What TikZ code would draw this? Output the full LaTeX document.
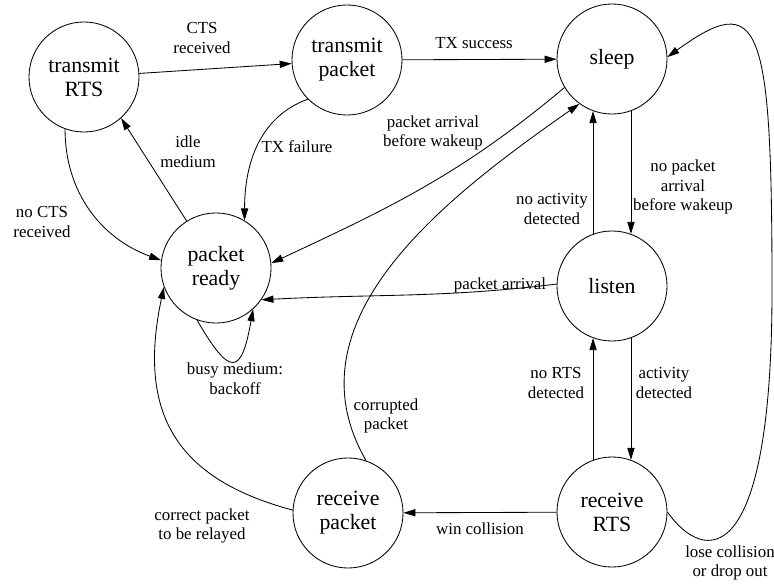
\documentclass[tikz,border=0pt]{standalone}
\usepackage{fontspec}
\setmainfont{Liberation Serif}
\usetikzlibrary{arrows.meta}

\begin{document}
\begin{tikzpicture}[x=0.025cm, y=0.025cm,
    state/.style={draw, circle, line width=0.6pt, minimum size=2.75cm, inner sep=0pt,
        align=center, font=\fontsize{15.5}{17}\selectfont},
    lbl/.style={align=center, inner sep=1pt, font=\fontsize{12}{14}\selectfont},
    arr/.style={line width=0.6pt, -{Triangle[length=3mm,width=1.8mm]}}]
            \useasboundingbox (0,0) rectangle (774,-584);
            % states
            \node[state] (tRTS) at (84,-77) {transmit\\RTS};
            \node[state] (tPkt) at (347,-60) {transmit\\packet};
            \node[state] (sleep) at (612,-59) {sleep};
            \node[state] (ready) at (216,-268) {packet\\ready};
            \node[state] (listen) at (612,-286) {listen};
            \node[state] (rRTS) at (612,-512) {receive\\RTS};
            \node[state] (rPkt) at (348,-513) {receive\\packet};
            % labels
            \node[lbl] (lCTS) at (202,-38) {CTS\\received};
            \node[lbl] (lTXok) at (474,-43) {TX success};
            \node[lbl] (lTXfail) at (297,-147) {TX failure};
            \node[lbl] (lIdle) at (188,-152) {idle\\medium};
            \node[lbl] (lNoCTS) at (42,-222) {no CTS\\received};
            \node[lbl] (lEarly) at (433,-133) {packet arrival\\before wakeup};
            \node[lbl] (lWake) at (683,-187) {no packet\\arrival\\before wakeup};
            \node[lbl] (lNoAct) at (552,-209) {no activity\\detected};
            \node[lbl] (lArr) at (500,-285) {packet arrival};
            \node[lbl] (lBusy) at (235,-379) {busy medium:\\backoff};
            \node[lbl] (lCorr) at (386,-416) {corrupted\\packet};
            \node[lbl] (lNoRTS) at (556,-383) {no RTS\\detected};
            \node[lbl] (lAct) at (664,-383) {activity\\detected};
            \node[lbl] (lWin) at (480,-529) {win collision};
            \node[lbl] (lRelay) at (202,-526) {correct packet\\to be relayed};
            \node[lbl] (lLose) at (730,-563) {lose collision\\or drop out};
            % transitions
            \draw[arr] (tRTS) -- (tPkt);
            \draw[arr] (tPkt) -- (sleep);
            \draw[arr] (tPkt.225) to[out=200, in=90] (ready.59);
            \draw[arr] (ready.122) -- (tRTS.-48);
            \draw[arr] (tRTS.250) to[out=270, in=160] (ready.172);
            \draw[arr] (sleep.211) to[out=220, in=25] (ready.5);
            \draw[arr] (rPkt.71) to[out=120, in=215] (sleep.234);
            \draw[arr] (sleep.-70) -- (listen.70);
            \draw[arr] (listen.110) -- (sleep.-110);
            \draw[arr] (listen.-70) -- (rRTS.70);
            \draw[arr] (rRTS.110) -- (listen.-110);
            \draw[arr] (listen.178) to[out=187, in=3] (ready.-35);
            \draw[arr] (ready.250) to[out=-60, in=-100, looseness=3] (ready.312);
            \draw[arr] (rRTS) -- (rPkt);
            \draw[arr] (rPkt.177) .. controls +(165:120) and +(258:130) .. (ready.200);
            \draw[arr] (rRTS.0) .. controls (705,-565) and (772,-570) .. (772,-290)
                .. controls (772,-20) and (760,10) .. (sleep.2);
        \end{tikzpicture}
\end{document}
